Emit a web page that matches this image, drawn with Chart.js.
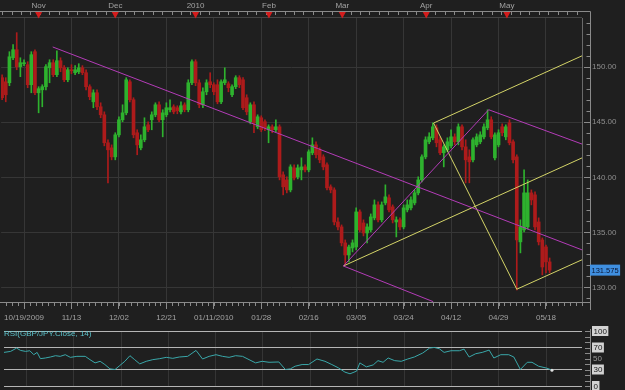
<!DOCTYPE html>
<html>
<head>
<meta charset="utf-8">
<script src="https://cdn.jsdelivr.net/npm/chart.js@4.4.1/dist/chart.umd.min.js"></script>
<style>
  html, body { margin: 0; padding: 0; background: #1f1f1f; }
  #wrap { position: relative; width: 625px; height: 390px; overflow: hidden; background: #1f1f1f; }
  #priceChart { position: absolute; left: 0; top: 0; }
  #rsiChart { position: absolute; left: 0; top: 326px; }
</style>
</head>
<body>
<div id="wrap">
  <canvas id="priceChart" width="625" height="326"></canvas>
  <canvas id="rsiChart" width="625" height="64"></canvas>
</div>
<script>
// GBP/JPY daily candles (one entry per bar)
const opens = [149.05,148.68,148.59,150.86,151.59,150.05,150.32,150.23,148.41,151.41,
  147.68,147.95,148.23,149.95,150.41,149.32,150.59,149.95,148.86,149.77,
  149.50,149.59,149.95,149.50,148.23,146.86,147.68,146.41,145.68,143.14,
  142.68,141.86,143.86,145.23,145.86,148.68,147.05,144.05,142.68,143.41,
  144.77,145.23,145.68,146.59,145.23,145.68,146.14,146.41,146.32,145.95,
  146.59,146.14,148.59,150.50,148.59,146.59,147.77,148.68,148.41,148.41,
  146.86,148.59,148.50,147.50,148.23,149.05,148.86,147.23,145.05,146.59,
  144.59,145.41,145.05,144.32,144.59,144.32,144.59,140.23,139.77,138.86,
  140.86,140.05,140.68,140.95,140.68,142.23,142.95,142.50,141.86,141.14,
  139.14,138.86,135.95,135.50,134.05,132.95,133.59,133.68,136.86,135.86,
  134.95,135.23,136.32,137.50,136.14,137.68,138.14,137.32,135.95,136.14,
  135.50,137.05,137.23,137.68,138.59,139.77,141.86,143.23,143.59,144.50,
  143.41,142.23,142.50,142.86,143.68,143.23,144.59,142.77,141.86,141.59,
  142.95,143.23,143.68,144.50,145.23,141.77,142.95,144.59,143.68,144.95,
  143.23,141.86,134.14,135.23,135.50,138.59,138.41,135.95,134.32,133.68,
  132.32]
const highs = [149.32,149.05,151.41,152.05,153.14,150.86,150.68,150.50,151.41,151.59,
  148.23,148.41,150.23,150.68,150.68,151.50,150.86,150.14,149.95,150.23,
  150.14,150.32,150.14,149.77,148.41,147.95,147.95,146.77,145.95,143.41,
  142.95,144.05,145.50,146.59,149.05,148.86,147.23,144.32,143.86,145.41,
  145.05,145.95,146.77,146.86,146.14,146.77,147.05,146.59,146.50,146.86,
  146.77,148.86,150.68,150.68,148.86,148.14,148.86,149.50,148.59,148.86,
  148.86,149.95,148.68,148.41,149.23,149.23,149.05,147.50,146.77,146.86,
  145.68,145.59,145.23,144.77,144.77,145.23,144.77,140.50,140.05,141.14,
  141.14,141.14,141.77,141.14,142.50,143.59,143.23,142.68,142.05,141.32,
  139.32,139.05,136.32,135.68,134.32,133.86,134.32,137.23,137.05,136.14,
  135.77,136.68,137.95,137.77,137.77,139.32,138.41,137.50,136.41,136.32,
  137.50,137.95,138.23,138.86,140.05,142.05,143.68,144.05,144.95,144.77,
  143.68,142.95,143.59,144.32,143.95,144.86,144.77,143.41,142.50,143.59,
  143.95,144.14,144.86,146.14,145.50,144.05,144.32,144.86,144.77,145.23,
  143.41,142.05,136.14,140.68,139.77,138.86,138.68,136.32,134.50,133.86,
  132.68]
const lows = [147.05,146.86,148.32,150.68,149.77,149.14,150.14,148.14,147.68,147.50,
  145.86,146.41,147.95,148.59,149.14,149.14,149.59,148.68,148.68,149.41,
  149.32,149.41,149.32,147.95,147.05,146.32,146.14,145.41,142.86,139.50,
  141.59,141.59,143.68,145.05,145.68,146.86,143.59,142.05,142.50,143.23,
  144.14,144.32,145.50,145.05,143.68,145.50,145.95,145.77,145.77,145.77,
  145.95,145.95,148.41,148.32,146.32,146.32,147.50,148.14,147.50,146.68,
  146.68,148.41,147.77,147.32,148.05,148.14,146.14,145.68,144.86,144.05,
  144.41,144.14,144.23,143.14,144.05,144.14,139.77,138.41,138.59,138.68,
  139.77,139.86,139.77,140.50,140.50,142.05,141.77,141.32,140.68,138.86,
  138.59,135.68,135.23,133.77,132.05,132.32,133.23,133.41,135.05,134.68,
  134.05,135.05,136.14,135.95,135.95,137.50,136.86,135.86,134.59,135.23,
  135.32,136.86,137.05,137.50,138.41,139.59,141.68,143.05,143.41,142.77,
  142.05,140.95,142.32,142.68,142.95,142.95,142.50,139.50,139.50,141.41,
  142.77,143.05,143.50,144.32,143.50,141.59,142.77,143.77,143.41,142.95,
  141.32,129.77,133.14,135.05,135.32,137.50,135.23,133.86,131.14,131.32,
  131.32]
const closes = [147.23,147.50,150.95,151.59,150.05,150.41,150.41,148.41,151.14,147.68,
  148.05,148.23,150.05,150.41,149.32,150.59,149.95,148.86,149.77,149.68,
  149.77,149.95,149.50,148.23,147.32,147.68,146.41,145.68,143.14,142.50,
  141.86,143.86,145.23,145.86,148.86,147.05,143.86,142.95,143.41,144.59,
  144.32,145.68,146.59,145.23,145.86,146.32,146.32,145.95,146.05,146.50,
  146.14,148.59,150.50,148.59,146.59,147.77,148.59,148.41,147.77,146.86,
  148.68,148.86,148.14,148.23,149.05,148.41,146.32,145.95,146.59,144.95,
  145.50,144.32,144.50,144.59,144.32,144.59,140.05,139.14,138.86,140.95,
  139.95,140.86,140.95,140.68,142.32,142.95,142.05,141.59,140.95,139.05,
  138.86,135.95,135.50,134.05,132.95,133.68,134.05,136.86,135.23,134.95,
  135.50,136.41,137.50,136.14,137.50,138.23,137.05,136.14,136.14,135.50,
  137.23,137.50,137.95,138.59,139.77,141.86,143.41,143.68,144.59,143.14,
  142.23,142.77,143.23,143.68,143.23,144.59,142.77,141.59,141.41,143.41,
  143.68,143.86,144.59,145.23,143.68,143.86,144.05,144.05,144.59,143.14,
  141.59,134.32,135.50,138.59,138.59,137.95,135.50,134.14,131.86,132.32,
  131.575]

// bottom date labels and the bar index they sit on
const dateIdx = [6, 19, 32, 45, 58, 71, 84, 97, 110, 123, 136, 149]
const dateLabels = ["10/19/2009", "11/13", "12/02", "12/21", "01/11/2010", "01/28",
  "02/16", "03/05", "03/24", "04/12", "04/29", "05/18"]
// top month markers
const monthIdx = [10.0, 31.0, 53.0, 73.1, 93.2, 116.2, 138.3]
const monthLabels = ["Nov", "Dec", "2010", "Feb", "Mar", "Apr", "May"]
const priceLabels = [130, 135, 140, 145, 150]

// drawn lines: [barIndex, price] end points
const trendLong = [[13.86, 151.84], [158.9, 133.41]]
const trendLow = [[93.5, 131.95], [118.1, 128.71]]
const trendUp = [[93.5, 131.95], [133.3, 146.14]]
const trendDown = [[133.3, 146.14], [158.9, 143.02]]
const forkHandle = [[118.2, 144.93], [141.0, 129.84]]
const forkMedian = [[93.5, 131.95], [158.9, 141.77]]
const forkUpper = [[118.2, 144.93], [158.9, 151.04]]
const forkLower = [[141.0, 129.84], [158.9, 132.52]]

// RSI(14) trace
const rsiX = [-0.27,1.55,3.19,4.28,5.65,6.84,7.93,8.84,9.75,11.1,
  12.5,13.9,15.2,16.6,18.0,19.8,22.1,23.4,24.8,26.2,
  27.5,28.9,30.3,31.6,33.0,34.4,35.7,37.1,38.9,40.7,
  42.6,44.4,46.2,48.0,50.3,52.6,54.4,56.2,58.1,59.9,
  61.7,63.5,65.4,67.2,69.0,70.8,72.7,75.4,77.2,78.6,
  79.9,81.8,83.6,85.9,88.1,90.0,91.8,93.6,95.0,96.8,
  97.7,99.5,101.4,102.7,104.1,105.5,107.3,109.1,110.9,112.7,
  115.0,116.9,118.2,119.6,120.9,122.8,125.1,126.4,127.8,129.6,
  131.4,133.3,134.6,136.5,138.7,140.1,141.9,143.8,145.1,146.9,
  149.2,150.6]
const rsiY = [61.1,62.9,68.9,64.7,62.9,64.1,56.9,61.1,49.7,50.9,
  52.7,55.1,53.9,56.9,52.1,53.9,53.9,47.9,42.0,44.9,
  39.0,31.2,30.0,37.2,44.9,55.1,47.9,40.2,44.9,47.9,
  49.7,52.1,50.3,52.7,53.9,64.7,49.1,53.9,56.9,53.9,
  52.1,55.1,53.9,47.9,42.0,44.9,43.1,43.7,30.0,31.2,
  36.0,39.0,39.0,49.1,44.9,39.0,33.0,25.2,22.2,27.0,
  42.0,34.8,38.4,46.1,43.1,50.9,46.1,44.9,49.1,52.7,
  59.9,68.9,70.1,67.7,61.1,64.1,64.1,67.1,52.7,58.7,
  61.1,65.3,50.9,56.9,56.9,52.7,30.0,43.1,43.1,36.0,
  32.4,28.8]
const rsiLevels = [100, 70, 50, 30, 0]
const rsiBoxed = [100, 70, 30, 0]

const X_MIN = -0.273, X_MAX = 158.87
const Y_MIN = 128.68, Y_MAX = 154.47
const GREEN = "#2eb22e", RED = "#ad1b1b"
const MAGENTA = "#b43cb8", YELLOW = "#d4d468"
const FONT = "'Liberation Sans', Arial, sans-serif"

Chart.defaults.font.family = FONT
Chart.defaults.font.size = 8
Chart.defaults.color = "#9c9c9c"

const up = closes.map((c, i) => c >= opens[i])
const candleColors = up.map(u => (u ? GREEN : RED))
const seg = (pts, color) => ({
  type: "line",
  data: pts.map(([x, y]) => ({ x, y })),
  borderColor: color,
  borderWidth: 1,
  pointRadius: 0,
  tension: 0,
  order: 0,
})

const dateTicks = s => { s.ticks = dateIdx.map(v => ({ value: v })) }

const priceFrame = {
  id: "priceFrame",
  afterDraw(chart) {
    const { ctx, chartArea: a } = chart
    const xs = chart.scales.x, ys = chart.scales.y
    ctx.save()
    ctx.strokeStyle = "#8a8a8a"
    ctx.lineWidth = 1
    ctx.beginPath()
    // top time rule and its small ticks
    ctx.moveTo(0, 11.5); ctx.lineTo(590.5, 11.5)
    for (let v = 0; v <= X_MAX; v += 2.58) {
      const px = Math.round(xs.getPixelForValue(v)) + 0.5
      ctx.moveTo(px, 11.5); ctx.lineTo(px, 15)
    }
    // right rule
    ctx.moveTo(590.5, 11.5); ctx.lineTo(590.5, 310)
    // bottom rule and minor ticks
    ctx.moveTo(0, a.bottom + 0.5); ctx.lineTo(590.5, a.bottom + 0.5)
    for (let v = dateIdx[0] - 13; v <= X_MAX; v += 13 / 8) {
      if (v < X_MIN) continue
      const px = Math.round(xs.getPixelForValue(v)) + 0.5
      ctx.moveTo(px, a.bottom); ctx.lineTo(px, a.bottom + 4)
    }
    // price ticks
    for (let v = 129; v <= 154; v++) {
      const py = Math.round(ys.getPixelForValue(v)) + 0.5
      ctx.moveTo(v % 5 === 0 ? 584 : 586.5, py); ctx.lineTo(590.5, py)
    }
    ctx.stroke()
    ctx.strokeStyle = "#444"
    ctx.beginPath()
    ctx.moveTo(0, a.top - 0.5); ctx.lineTo(a.right, a.top - 0.5)
    ctx.stroke()

    // month markers
    ctx.fillStyle = "#d41c1c"
    monthIdx.forEach(v => {
      const px = xs.getPixelForValue(v)
      ctx.beginPath()
      ctx.moveTo(px - 3.5, 12); ctx.lineTo(px + 3.5, 12); ctx.lineTo(px, 18.5)
      ctx.closePath(); ctx.fill()
    })
    ctx.font = "8px " + FONT
    ctx.textAlign = "center"
    ctx.textBaseline = "middle"
    ctx.fillStyle = "#a2a2a2"
    monthIdx.forEach((v, k) => ctx.fillText(monthLabels[k], xs.getPixelForValue(v), 5.5))

    // last price tag
    const last = closes[closes.length - 1]
    const py = ys.getPixelForValue(last)
    ctx.font = "7.5px " + FONT
    const tw = ctx.measureText(last.toFixed(3)).width
    ctx.fillStyle = "#3f8fe0"
    ctx.fillRect(590, py - 5.5, tw + 3, 11)
    ctx.fillStyle = "#0b1633"
    ctx.textAlign = "left"
    ctx.fillText(last.toFixed(3), 591.5, py + 0.5)
    ctx.restore()
  },
}

new Chart(document.getElementById("priceChart"), {
  type: "bar",
  data: {
    datasets: [
      {
        type: "bar",
        data: closes.map((c, i) => ({ x: i, y: [lows[i], highs[i]] })),
        backgroundColor: candleColors,
        barThickness: 1,
        grouped: false,
        order: 3,
      },
      {
        type: "bar",
        data: closes.map((c, i) => ({ x: i, y: [opens[i], c] })),
        backgroundColor: candleColors,
        barThickness: 3,
        grouped: false,
        order: 2,
      },
      seg(trendLong, MAGENTA),
      seg(trendLow, MAGENTA),
      seg(trendUp, MAGENTA),
      seg(trendDown, MAGENTA),
      seg(forkHandle, YELLOW),
      seg(forkMedian, YELLOW),
      seg(forkUpper, YELLOW),
      seg(forkLower, YELLOW),
    ],
  },
  options: {
    responsive: false,
    animation: false,
    devicePixelRatio: 1,
    layout: { padding: { top: 18, left: 0, right: 0, bottom: 0 } },
    plugins: { legend: { display: false }, tooltip: { enabled: false } },
    scales: {
      x: {
        type: "linear",
        min: X_MIN,
        max: X_MAX,
        offset: false,
        afterBuildTicks: dateTicks,
        afterFit: s => { s.height = 24 },
        ticks: {
          callback: (v, k) => dateLabels[k],
          maxRotation: 0,
          autoSkip: false,
          padding: 4,
          color: "#a2a2a2",
        },
        grid: { color: "#363636", offset: false, tickLength: 7, tickColor: "#8a8a8a" },
        border: { color: "#6a6a6a" },
      },
      y: {
        position: "right",
        min: Y_MIN,
        max: Y_MAX,
        afterBuildTicks: s => { s.ticks = priceLabels.map(v => ({ value: v })) },
        afterFit: s => { s.width = 43 },
        ticks: { callback: v => v.toFixed(2), padding: 10, autoSkip: false, color: "#8e8e8e" },
        grid: { color: "#363636", drawTicks: false },
        border: { color: "#6a6a6a" },
      },
    },
  },
  plugins: [priceFrame],
})

const rsiFrame = {
  id: "rsiFrame",
  afterDraw(chart) {
    const { ctx } = chart
    const ys = chart.scales.y
    ctx.save()
    ctx.strokeStyle = "#8a8a8a"
    ctx.lineWidth = 1
    ctx.beginPath()
    ctx.moveTo(590.5, 3); ctx.lineTo(590.5, 64)
    for (let v = 0; v <= 100; v += 10) {
      const py = Math.round(ys.getPixelForValue(v)) + 0.5
      ctx.moveTo(585, py); ctx.lineTo(590.5, py)
    }
    ctx.stroke()
    ctx.font = "8px " + FONT
    ctx.textBaseline = "middle"
    ctx.textAlign = "left"
    rsiLevels.forEach(v => {
      const py = ys.getPixelForValue(v)
      const t = String(v)
      if (rsiBoxed.includes(v)) {
        const w = ctx.measureText(t).width + 3
        ctx.fillStyle = "#d2d2d2"
        ctx.fillRect(592, py - 5, w, 10)
        ctx.fillStyle = "#161616"
        ctx.fillText(t, 593.5, py + 0.5)
      } else {
        ctx.fillStyle = "#9a9a9a"
        ctx.fillText(t, 593, py)
      }
    })
    ctx.fillStyle = "#5cc4cc"
    ctx.fillText("RSI(GBP/JPY.Close, 14)", 4, 7.5)
    ctx.restore()
  },
}

new Chart(document.getElementById("rsiChart"), {
  type: "line",
  data: {
    datasets: [
      {
        data: rsiX.map((x, i) => ({ x, y: rsiY[i] })),
        borderColor: "#3aa8aa",
        borderWidth: 1,
        tension: 0,
        pointRadius: c => (c.dataIndex === rsiX.length - 1 ? 1.5 : 0),
        pointBackgroundColor: "#e0e0e0",
        pointBorderWidth: 0,
      },
    ],
  },
  options: {
    responsive: false,
    animation: false,
    devicePixelRatio: 1,
    layout: { padding: { top: 5, left: 0, right: 0, bottom: 3.3 } },
    plugins: { legend: { display: false }, tooltip: { enabled: false } },
    scales: {
      x: {
        type: "linear",
        min: X_MIN,
        max: X_MAX,
        afterBuildTicks: dateTicks,
        afterFit: s => { s.height = 0 },
        ticks: { display: false },
        grid: { color: "#353535", drawTicks: false },
        border: { display: false },
      },
      y: {
        position: "right",
        min: 0,
        max: 100,
        afterBuildTicks: s => { s.ticks = rsiBoxed.map(v => ({ value: v })) },
        afterFit: s => { s.width = 43 },
        ticks: { display: false },
        grid: { color: "#b5b5b5", drawTicks: false },
        border: { display: false },
      },
    },
  },
  plugins: [rsiFrame],
})
</script>
</body>
</html>
